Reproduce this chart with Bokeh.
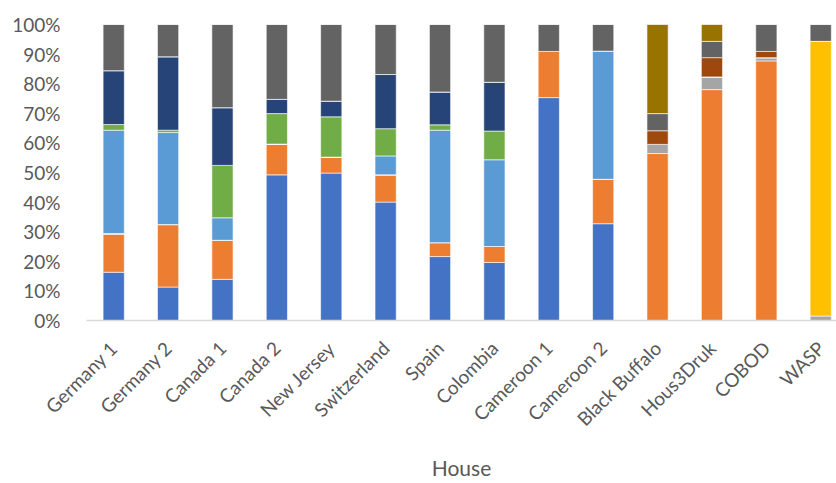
import math
from bokeh.plotting import figure
from bokeh.models import ColumnDataSource, FixedTicker, NumeralTickFormatter, Range1d
from bokeh.embed import file_html
from bokeh.resources import INLINE

houses = ["Germany 1", "Germany 2", "Canada 1", "Canada 2", "New Jersey", "Switzerland",
          "Spain", "Colombia", "Cameroon 1", "Cameroon 2", "Black Buffalo", "Hous3Druk",
          "COBOD", "WASP"]

# percentage shares per house (bottom to top of the stack)
s1 = [16.3, 11.3, 13.9, 49.2, 49.8, 40.0, 21.6, 19.6, 75.3, 32.7, 0, 0, 0, 0]
s2 = [12.8, 21.1, 13.2, 10.4, 5.4, 9.2, 4.7, 5.4, 15.6, 15.0, 56.4, 78.0, 87.7, 0]
s3 = [0.3, 0, 0, 0, 0, 0, 0, 0, 0, 0, 3.1, 4.3, 1.1, 1.5]
s4 = [0, 0, 0, 0, 0, 0, 0, 0, 0, 0, 0, 0, 0, 92.8]
s5 = [34.9, 31.1, 7.6, 0, 0, 6.4, 38.0, 29.3, 0, 43.3, 0, 0, 0, 0]
s6 = [1.9, 0.8, 17.7, 10.3, 13.6, 9.2, 1.8, 9.7, 0, 0, 0, 0, 0, 0]
s7 = [18.2, 24.8, 19.5, 4.8, 5.3, 18.3, 11.1, 16.5, 0, 0, 0, 0, 0, 0]
s8 = [0, 0, 0, 0, 0, 0, 0, 0, 0, 0, 4.6, 6.5, 2.1, 0]
s9 = [15.6, 10.9, 28.1, 25.3, 25.9, 16.9, 22.8, 19.5, 9.1, 9.0, 5.8, 5.5, 9.1, 5.7]
s10 = [0, 0, 0, 0, 0, 0, 0, 0, 0, 0, 30.1, 5.7, 0, 0]

series = [s1, s2, s3, s4, s5, s6, s7, s8, s9, s10]
colors = ["#4472C4", "#ED7D31", "#A5A5A5", "#FFC000", "#5B9BD5",
          "#70AD47", "#264478", "#9E480E", "#636363", "#997300"]
y_ticks = [0, 0.1, 0.2, 0.3, 0.4, 0.5, 0.6, 0.7, 0.8, 0.9, 1.0]

keys = [f"s{i+1}" for i in range(len(series))]
data = {"x": list(range(len(houses)))}
for k, s in zip(keys, series):
    data[k] = [v / 100.0 for v in s]
source = ColumnDataSource(data)

FONT = "Lato"
TXT = "#595959"

p = figure(width=836, height=483, output_backend="svg", toolbar_location=None,
           x_range=Range1d(-0.5, 13.29), y_range=Range1d(0, 1.0),
           min_border_left=86, min_border_right=0, min_border_top=24, min_border_bottom=163)
p.outline_line_color = None
p.grid.visible = False

p.vbar_stack(keys, x="x", width=0.39, source=source, color=colors,
             line_color="white", line_width=0.6)

# y axis
p.yaxis.ticker = FixedTicker(ticks=y_ticks)
p.yaxis.formatter = NumeralTickFormatter(format="0%")
p.yaxis.axis_line_color = None
p.yaxis.major_tick_line_color = None
p.yaxis.minor_tick_line_color = None
p.yaxis.major_label_text_font = FONT
p.yaxis.major_label_text_font_size = "19px"
p.yaxis.major_label_text_color = TXT
p.yaxis.major_label_standoff = 20

# x axis
p.xaxis.ticker = FixedTicker(ticks=list(range(len(houses))))
p.xaxis.major_label_overrides = {i: h for i, h in enumerate(houses)}
p.xaxis.major_label_orientation = math.pi / 4
p.xaxis.axis_line_color = "#D9D9D9"
p.xaxis.axis_line_width = 1.5
p.xaxis.major_tick_line_color = None
p.xaxis.minor_tick_line_color = None
p.xaxis.major_label_text_font = FONT
p.xaxis.major_label_text_font_size = "19px"
p.xaxis.major_label_text_color = TXT
p.xaxis.major_label_standoff = 18
p.xaxis.axis_label = "House"
p.xaxis.axis_label_text_font = FONT
p.xaxis.axis_label_text_font_style = "normal"
p.xaxis.axis_label_text_font_size = "21px"
p.xaxis.axis_label_text_color = TXT
p.xaxis.axis_label_standoff = 14

open("out.html", "w").write(file_html(p, INLINE))
